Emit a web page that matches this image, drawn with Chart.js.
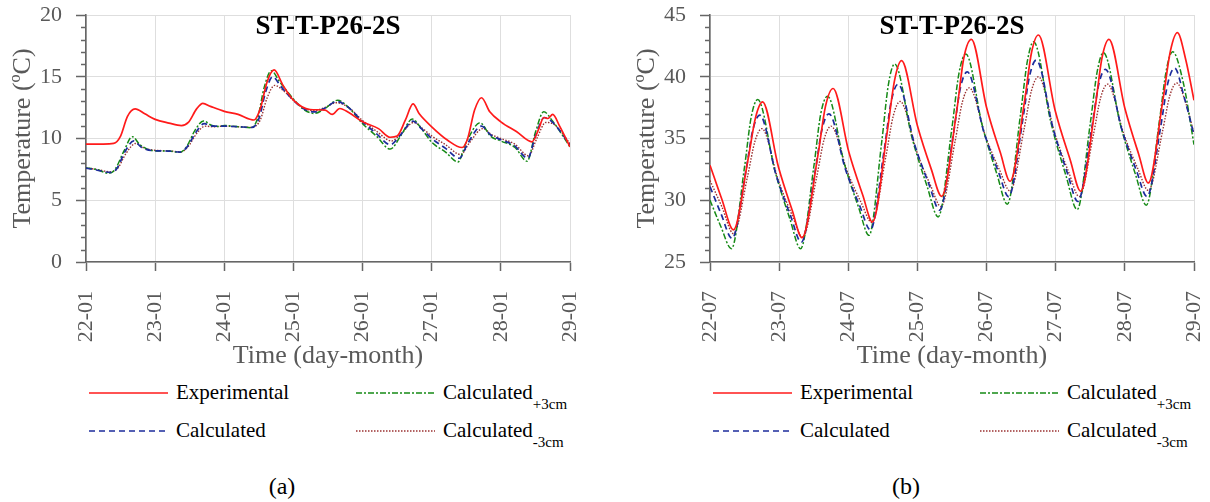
<!DOCTYPE html>
<html>
<head>
<meta charset="utf-8">
<script src="https://cdn.jsdelivr.net/npm/chart.js@4.4.1/dist/chart.umd.min.js"></script>
<style>
  html, body { margin: 0; padding: 0; background: #fff; }
  body { width: 1210px; height: 502px; position: relative; overflow: hidden;
         font-family: "Liberation Serif", "Times New Roman", serif; }
  .panel { position: absolute; top: 0; width: 586px; height: 502px; }
  .panel canvas { position: absolute; left: 0; top: 0; }
  .key { position: absolute; font-size: 21px; line-height: 24px; color: #000; white-space: nowrap; }
  .key sub { font-size: 15px; vertical-align: baseline; position: relative; top: 10px; }
  .swatch { position: absolute; }
  .caption { position: absolute; font-size: 24px; line-height: 28px; color: #000; transform: translateX(-50%); }
</style>
</head>
<body>
<div class="panel" id="panelA" style="left:0"><canvas id="chartA" width="586" height="372"></canvas></div>
<div class="panel" id="panelB" style="left:624px"><canvas id="chartB" width="586" height="372"></canvas></div>
<script>
// ---- tick labels (day-month) ----
const janLabels = ['22-01', '23-01', '24-01', '25-01', '26-01', '27-01', '28-01', '29-01'];
const julLabels = ['22-07', '23-07', '24-07', '25-07', '26-07', '27-07', '28-07', '29-07'];

// ---- January week: time in days since 22-01 00:00, temperature in ºC ----
const janExpDay  = [0, 0.25, 0.4, 0.5, 0.6, 0.71, 0.85, 1.0, 1.2, 1.38, 1.48, 1.6, 1.69, 1.8, 2.0, 2.2, 2.43, 2.52, 2.62, 2.72, 2.85, 3.0, 3.24, 3.46, 3.56, 3.67, 3.8, 4.0, 4.23, 4.4, 4.5, 4.62, 4.73, 4.82, 5.0, 5.23, 5.44, 5.52, 5.62, 5.72, 5.84, 6.0, 6.23, 6.45, 6.55, 6.62, 6.68, 6.75, 6.85, 7.0];
const janExpTemp = [9.55, 9.55, 9.6, 10.2, 11.8, 12.4, 12.0, 11.55, 11.25, 11.05, 11.3, 12.4, 12.84, 12.6, 12.2, 11.95, 11.5, 12.4, 14.6, 15.55, 14.3, 13.1, 12.35, 12.3, 11.95, 12.43, 12.1, 11.35, 10.8, 10.1, 10.2, 11.5, 12.8, 12.0, 10.95, 9.86, 9.27, 10.0, 12.3, 13.3, 12.16, 11.35, 10.54, 9.73, 10.8, 11.7, 11.62, 11.95, 11.0, 9.32];

const janCalDay  = [0, 0.15, 0.35, 0.45, 0.56, 0.69, 0.8, 0.96, 1.2, 1.36, 1.46, 1.59, 1.71, 1.85, 2.0, 2.2, 2.4, 2.5, 2.6, 2.7, 2.82, 3.0, 3.15, 3.3, 3.45, 3.63, 3.8, 4.0, 4.2, 4.4, 4.55, 4.73, 4.85, 5.0, 5.2, 5.4, 5.52, 5.72, 5.85, 6.0, 6.2, 6.39, 6.5, 6.63, 6.75, 7.0];
const janCalTemp = [7.6, 7.45, 7.25, 7.6, 8.9, 9.8, 9.3, 9.02, 8.98, 8.9, 9.3, 10.5, 11.2, 11.0, 11.0, 10.95, 10.9, 11.6, 13.8, 15.0, 14.2, 13.1, 12.4, 12.15, 12.45, 13.0, 12.5, 11.35, 10.4, 9.5, 10.3, 11.4, 10.8, 10.0, 9.2, 8.4, 9.6, 11.0, 10.3, 9.9, 9.4, 8.4, 10.2, 11.7, 11.3, 9.5];

const janPlusDay  = [0, 0.15, 0.33, 0.42, 0.55, 0.67, 0.78, 0.96, 1.2, 1.35, 1.45, 1.58, 1.7, 1.82, 1.93, 2.0, 2.2, 2.39, 2.48, 2.58, 2.68, 2.8, 3.0, 3.15, 3.3, 3.45, 3.64, 3.8, 4.0, 4.2, 4.4, 4.55, 4.72, 4.85, 5.0, 5.2, 5.38, 5.5, 5.7, 5.85, 6.0, 6.2, 6.38, 6.5, 6.62, 6.75, 7.0];
const janPlusTemp = [7.62, 7.5, 7.18, 7.5, 9.0, 10.15, 9.5, 9.02, 8.98, 8.88, 9.3, 10.7, 11.42, 11.05, 10.98, 11.05, 10.95, 10.88, 11.6, 14.2, 15.49, 14.6, 13.2, 12.35, 12.03, 12.4, 13.1, 12.5, 11.2, 10.2, 9.14, 10.2, 11.57, 10.8, 9.7, 8.9, 8.1, 9.7, 11.27, 10.2, 9.8, 9.3, 8.16, 10.5, 12.16, 11.4, 9.32];

const janMinusDay  = [0, 0.15, 0.36, 0.46, 0.58, 0.72, 0.85, 1.0, 1.2, 1.37, 1.47, 1.6, 1.72, 1.85, 2.0, 2.2, 2.4, 2.52, 2.62, 2.73, 2.85, 3.0, 3.15, 3.3, 3.45, 3.62, 3.8, 4.0, 4.2, 4.42, 4.56, 4.74, 4.87, 5.0, 5.2, 5.42, 5.54, 5.74, 5.87, 6.0, 6.2, 6.4, 6.52, 6.65, 6.78, 7.0];
const janMinusTemp = [7.6, 7.5, 7.3, 7.6, 8.8, 9.6, 9.2, 9.05, 9.0, 8.92, 9.3, 10.4, 11.0, 10.95, 11.0, 10.95, 10.9, 11.5, 13.3, 14.3, 13.9, 13.1, 12.45, 12.25, 12.5, 12.9, 12.5, 11.45, 10.6, 9.8, 10.4, 11.3, 10.8, 10.2, 9.5, 8.7, 9.6, 10.8, 10.3, 10.0, 9.55, 8.6, 10.0, 11.3, 11.1, 9.6];

// ---- July week ----
const julExpDay  = [0, 0.17, 0.34, 0.55, 0.66, 0.76, 0.99, 1.19, 1.33, 1.56, 1.67, 1.78, 2.01, 2.21, 2.35, 2.56, 2.67, 2.77, 3.0, 3.2, 3.35, 3.57, 3.67, 3.78, 4.0, 4.2, 4.34, 4.55, 4.65, 4.75, 4.99, 5.21, 5.36, 5.57, 5.67, 5.77, 6.0, 6.2, 6.34, 6.55, 6.66, 6.76, 6.88, 7.0];
const julExpTemp = [32.84, 30.1, 27.6, 33.3, 36.73, 37.97, 32.69, 29.17, 26.97, 33.61, 37.6, 39.05, 33.86, 30.4, 28.24, 35.42, 39.73, 41.3, 36.03, 32.52, 30.32, 37.31, 41.5, 43.03, 37.51, 33.84, 31.54, 38.05, 41.96, 43.38, 37.31, 33.26, 30.73, 37.5, 41.55, 43.03, 37.45, 33.73, 31.4, 38.1, 42.11, 43.57, 41.4, 38.1];

const julCalDay  = [0, 0.16, 0.32, 0.52, 0.62, 0.72, 0.96, 1.17, 1.32, 1.52, 1.62, 1.72, 1.96, 2.17, 2.32, 2.52, 2.62, 2.72, 2.96, 3.17, 3.32, 3.52, 3.62, 3.72, 3.96, 4.17, 4.32, 4.52, 4.62, 4.72, 4.96, 5.17, 5.32, 5.52, 5.62, 5.72, 5.96, 6.17, 6.32, 6.52, 6.62, 6.72, 6.86, 7.0];
const julCalTemp = [31.1, 28.9, 26.9, 32.4, 35.7, 36.9, 31.96, 28.66, 26.6, 32.32, 35.75, 37.0, 32.49, 29.48, 27.6, 34.09, 37.98, 39.4, 34.5, 31.24, 29.2, 35.36, 39.06, 40.4, 35.55, 32.32, 30.3, 36.38, 40.02, 41.35, 35.85, 32.19, 29.9, 35.79, 39.32, 40.6, 35.66, 32.36, 30.3, 36.02, 39.45, 40.7, 38.3, 35.3];

const julPlusDay  = [0, 0.155, 0.31, 0.5, 0.595, 0.69, 0.94, 1.155, 1.31, 1.505, 1.6, 1.7, 1.94, 2.15, 2.3, 2.485, 2.58, 2.67, 2.92, 3.14, 3.3, 3.5, 3.6, 3.7, 3.94, 4.15, 4.3, 4.49, 4.59, 4.68, 4.93, 5.15, 5.31, 5.5, 5.6, 5.69, 5.94, 6.155, 6.31, 6.5, 6.6, 6.69, 6.85, 7.0];
const julPlusTemp = [30.0, 27.9, 26.08, 32.72, 36.71, 38.16, 32.36, 28.5, 26.08, 32.87, 36.95, 38.43, 33.02, 29.41, 27.16, 34.79, 39.37, 41.03, 35.09, 31.13, 28.65, 35.9, 40.26, 41.84, 36.0, 32.11, 29.68, 36.92, 41.26, 42.84, 36.31, 31.96, 29.24, 36.23, 40.42, 41.95, 36.02, 32.07, 29.6, 36.44, 40.54, 42.03, 39.4, 34.5];

const julMinusDay  = [0, 0.17, 0.34, 0.545, 0.65, 0.75, 0.99, 1.19, 1.34, 1.545, 1.65, 1.75, 1.99, 2.19, 2.34, 2.545, 2.65, 2.75, 2.99, 3.19, 3.34, 3.545, 3.65, 3.75, 3.99, 4.19, 4.34, 4.545, 4.65, 4.75, 4.99, 5.19, 5.34, 5.545, 5.65, 5.75, 5.99, 6.19, 6.34, 6.545, 6.65, 6.75, 6.88, 7.0];
const julMinusTemp = [31.6, 29.5, 27.3, 31.98, 34.78, 35.8, 31.58, 28.76, 27.0, 31.95, 34.92, 36.0, 32.26, 29.76, 28.2, 33.59, 36.82, 38.0, 33.92, 31.2, 29.5, 34.78, 37.95, 39.1, 35.09, 32.42, 30.75, 35.84, 38.89, 40.0, 35.34, 32.24, 30.3, 35.3, 38.31, 39.4, 35.27, 32.52, 30.8, 35.59, 38.46, 39.5, 37.9, 35.4];

// ---- series styling and legend ----
const SERIF = '"Liberation Serif", "Times New Roman", serif';
const AXIS_GREY = '#666666';
const TEXT_GREY = '#595959';
const GRID_GREY = '#dedede';

const seriesStyles = [
  { text: 'Experimental', sub: '',     color: '#ff1a1a', dash: [],           width: 1.7 },
  { text: 'Calculated',   sub: '',     color: '#1c2c9c', dash: [6, 4],       width: 1.7 },
  { text: 'Calculated',   sub: '+3cm', color: '#168a16', dash: [6, 2, 2, 2], width: 1.5 },
  { text: 'Calculated',   sub: '-3cm', color: '#9a3030', dash: [1.5, 1.5],   width: 1.4 }
];

function points(days, temps) {
  return days.map((d, i) => ({ x: d, y: temps[i] }));
}

// minor y ticks (every 1 ºC) and the panel heading inside the plot
const panelDecor = {
  id: 'panelDecor',
  afterDraw(chart, args, opts) {
    const { ctx, chartArea } = chart;
    const y = chart.scales.y;
    ctx.save();
    ctx.strokeStyle = AXIS_GREY;
    ctx.lineWidth = 1.5;
    for (let v = y.min; v <= y.max; v += 1) {
      if ((v - y.min) % 5 === 0) continue;
      const py = Math.round(y.getPixelForValue(v)) + 0.5;
      ctx.beginPath();
      ctx.moveTo(chartArea.left - 5, py);
      ctx.lineTo(chartArea.left, py);
      ctx.stroke();
    }
    ctx.fillStyle = '#000';
    ctx.font = 'bold 27px ' + SERIF;
    ctx.textAlign = 'center';
    ctx.textBaseline = 'middle';
    ctx.fillText(opts.heading, (chartArea.left + chartArea.right) / 2, chartArea.top + 12);
    ctx.restore();
  }
};

function makeChart(canvasId, labels, yMin, yMax, seriesData) {
  const datasets = seriesData.map((pts, i) => ({
    label: seriesStyles[i].sub ? seriesStyles[i].text + seriesStyles[i].sub : seriesStyles[i].text,
    data: pts,
    borderColor: seriesStyles[i].color,
    borderDash: seriesStyles[i].dash,
    borderWidth: seriesStyles[i].width,
    pointRadius: 0,
    fill: false,
    cubicInterpolationMode: 'monotone'
  }));
  return new Chart(document.getElementById(canvasId), {
    type: 'line',
    data: { datasets },
    plugins: [panelDecor],
    options: {
      responsive: false,
      animation: false,
      events: [],
      layout: { padding: { left: 0, right: 16, top: 15, bottom: 0 } },
      plugins: {
        legend: { display: false },
        tooltip: { enabled: false },
        panelDecor: { heading: 'ST-T-P26-2S' }
      },
      scales: {
        x: {
          type: 'linear', min: 0, max: 7,
          afterFit: s => { s.height = 110; s.paddingLeft = 0; s.paddingRight = 0; },
          ticks: {
            stepSize: 1, autoSkip: false, minRotation: 90, maxRotation: 90,
            padding: 20, color: TEXT_GREY, font: { family: SERIF, size: 22 },
            callback: v => labels[v]
          },
          grid: { color: GRID_GREY, lineWidth: 1, tickLength: 9, tickColor: AXIS_GREY, tickWidth: 1.5 },
          border: { color: AXIS_GREY, width: 1.6 },
          title: { display: true, text: 'Time (day-month)', color: TEXT_GREY,
                   font: { family: SERIF, size: 26 }, padding: { top: 0, bottom: 0 } }
        },
        y: {
          min: yMin, max: yMax,
          afterFit: s => { s.width = 86; s.paddingTop = 0; s.paddingBottom = 0; },
          ticks: { stepSize: 5, padding: 14, color: TEXT_GREY, font: { family: SERIF, size: 22 } },
          grid: { color: GRID_GREY, lineWidth: 1, tickLength: 10, tickColor: AXIS_GREY, tickWidth: 1.5 },
          border: { color: AXIS_GREY, width: 1.6 },
          title: { display: true, text: 'Temperature (ºC)', color: TEXT_GREY,
                   font: { family: SERIF, size: 26 }, padding: { top: 8, bottom: 0 } }
        }
      }
    }
  });
}

makeChart('chartA', janLabels, 0, 20, [
  points(janExpDay, janExpTemp),
  points(janCalDay, janCalTemp),
  points(janPlusDay, janPlusTemp),
  points(janMinusDay, janMinusTemp)
]);
makeChart('chartB', julLabels, 25, 45, [
  points(julExpDay, julExpTemp),
  points(julCalDay, julCalTemp),
  points(julPlusDay, julPlusTemp),
  points(julMinusDay, julMinusTemp)
]);

// ---- legend (two columns) and panel captions ----
const keySlots = [
  { x: 89,  y: 393 },   // Experimental
  { x: 89,  y: 431 },   // Calculated
  { x: 356, y: 393 },   // Calculated +3cm
  { x: 356, y: 431 }    // Calculated -3cm
];
const SVGNS = 'http://www.w3.org/2000/svg';

function buildLegend(panelId, caption) {
  const panel = document.getElementById(panelId);
  seriesStyles.forEach((s, i) => {
    const slot = keySlots[i];
    const svg = document.createElementNS(SVGNS, 'svg');
    svg.setAttribute('class', 'swatch');
    svg.setAttribute('width', '80');
    svg.setAttribute('height', '6');
    svg.style.left = slot.x + 'px';
    svg.style.top = (slot.y - 3) + 'px';
    const ln = document.createElementNS(SVGNS, 'line');
    ln.setAttribute('x1', '0'); ln.setAttribute('x2', '79');
    ln.setAttribute('y1', '3'); ln.setAttribute('y2', '3');
    ln.setAttribute('stroke', s.color);
    ln.setAttribute('stroke-width', s.width);
    if (s.dash.length) ln.setAttribute('stroke-dasharray', s.dash.join(' '));
    svg.appendChild(ln);
    panel.appendChild(svg);

    const t = document.createElement('div');
    t.className = 'key';
    t.style.left = (slot.x + 87) + 'px';
    t.style.top = (slot.y - 13) + 'px';
    t.textContent = s.text;
    if (s.sub) {
      const sub = document.createElement('sub');
      sub.textContent = s.sub;
      t.appendChild(sub);
    }
    panel.appendChild(t);
  });
  const c = document.createElement('div');
  c.className = 'caption';
  c.style.left = '282px';
  c.style.top = '472px';
  c.textContent = caption;
  panel.appendChild(c);
}
buildLegend('panelA', '(a)');
buildLegend('panelB', '(b)');
</script>
</body>
</html>
